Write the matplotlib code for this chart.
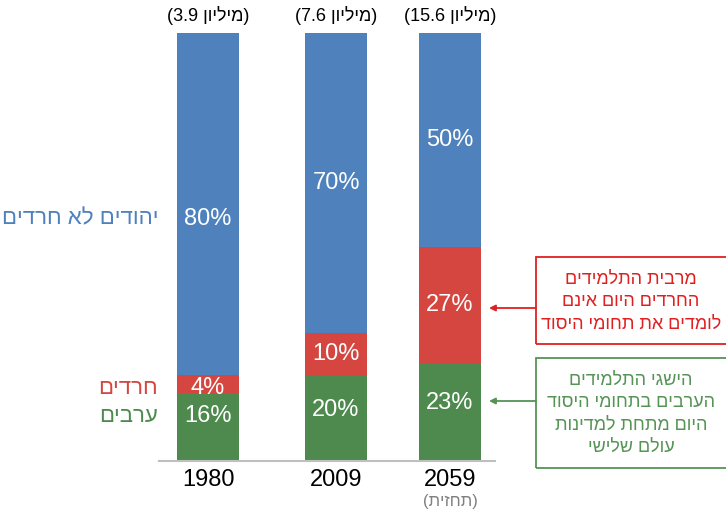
import numpy as np
import matplotlib.pyplot as plt
from matplotlib.patches import Rectangle

plt.rcParams['font.family'] = ['Liberation Sans', 'DejaVu Sans']

years = ['1980', '2009', '2059']
arabs = [16, 20, 23]
haredim = [4, 10, 27]
jews = [80, 70, 50]
millions = ['3.9', '7.6', '15.6']

cat_names = ['ערבים', 'חרדים', 'יהודים לא חרדים']
forecast = 'תחזית'
red_note = ['מרבית התלמידים', 'החרדים היום אינם', 'לומדים את תחומי היסוד']
green_note = ['הישגי התלמידים', 'הערבים בתחומי היסוד', 'היום מתחת למדינות', 'עולם שלישי']

BLUE = '#4f81bd'
RED = '#d4463f'
GREEN = '#4e8a4e'
NOTE_RED = '#e02020'
NOTE_GREEN = '#559455'


def rtl(s):
    # matplotlib has no bidi support, so write hebrew in visual order
    return s[::-1]


W, H = 726, 513
fig = plt.figure(figsize=(W / 100, H / 100), dpi=100)
ax = fig.add_axes([159 / W, 52 / H, 336 / W, 428 / H])

xpos = np.array([0, 1, 1.89])
width = 0.485

arabs = np.array(arabs)
haredim = np.array(haredim)
jews = np.array(jews)

ax.bar(xpos, arabs, width, color=GREEN)
ax.bar(xpos, haredim, width, bottom=arabs, color=RED)
ax.bar(xpos, jews, width, bottom=arabs + haredim, color=BLUE)

ax.set_xlim(-0.383, 2.242)
ax.set_ylim(0, 100)

# segment labels
green_y = arabs / 2 + 2
red_y = arabs + haredim / 2
blue_y = arabs + haredim + jews / 2
green_y[0] = 10.5
red_y[0] = 17
blue_y[0] = 56.5
for i in range(len(years)):
    ax.text(xpos[i], green_y[i], '%d%%' % arabs[i], ha='center', va='center', color='white', fontsize=17)
    ax.text(xpos[i], red_y[i], '%d%%' % haredim[i], ha='center', va='center', color='white', fontsize=17)
    ax.text(xpos[i], blue_y[i], '%d%%' % jews[i], ha='center', va='center', color='white', fontsize=17)
    ax.text(xpos[i], 104.1, '(%s %s)' % (millions[i], rtl('מיליון')), ha='center', va='center',
            fontsize=13, clip_on=False)

# category names on the left, lined up with the 1980 labels
for name, y, c in zip(cat_names, [green_y[0], red_y[0], blue_y[0]], [GREEN, RED, BLUE]):
    ax.text(-0.39, y, rtl(name), ha='right', va='center', color=c, fontsize=16, clip_on=False)

ax.set_xticks(xpos)
ax.set_xticklabels(years, fontsize=17)
ax.tick_params(axis='x', length=0, pad=6)
ax.set_yticks([])
for s in ['top', 'right', 'left']:
    ax.spines[s].set_visible(False)
ax.spines['bottom'].set_color('#bfbfbf')
ax.spines['bottom'].set_linewidth(1.5)
ax.text(xpos[2], -9.4, '(' + rtl(forecast) + ')', ha='center', va='center', color='#808080',
        fontsize=12, clip_on=False)


def px(x, y):
    return x / W, 1 - y / H


# note boxes
x0, y0 = px(536, 344)
fig.add_artist(Rectangle((x0, y0), 200 / W, 87 / H, transform=fig.transFigure,
                         fill=False, edgecolor=NOTE_RED, lw=1.3))
fig.text(px(631, 0)[0], px(0, 302)[1], '\n'.join(rtl(l) for l in red_note), ha='center', va='center',
         color=NOTE_RED, fontsize=13, linespacing=1.42)

x0, y0 = px(536, 468)
fig.add_artist(Rectangle((x0, y0), 200 / W, 110 / H, transform=fig.transFigure,
                         fill=False, edgecolor=NOTE_GREEN, lw=1.3))
fig.text(px(631, 0)[0], px(0, 414)[1], '\n'.join(rtl(l) for l in green_note), ha='center', va='center',
         color=NOTE_GREEN, fontsize=13, linespacing=1.42)

# arrows pointing to the 2059 segments
for y, c in [(308, NOTE_RED), (401, NOTE_GREEN)]:
    ax.annotate('', xy=px(489, y), xycoords='figure fraction', xytext=px(536, y),
                textcoords='figure fraction',
                arrowprops=dict(arrowstyle='-|>', color=c, lw=1.3, mutation_scale=9,
                                shrinkA=0, shrinkB=0))

fig.savefig('out.png', dpi=100)
